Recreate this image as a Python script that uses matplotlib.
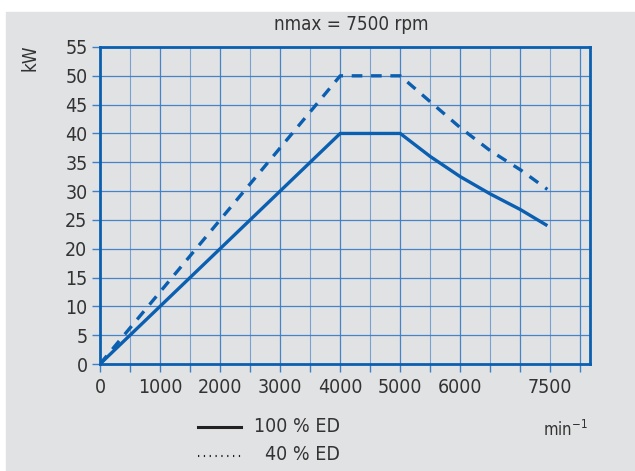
import matplotlib
matplotlib.use("Agg")
import matplotlib.pyplot as plt
from matplotlib.patches import Rectangle
from matplotlib.lines import Line2D
import numpy as np

plt.rcParams['font.family'] = ['Liberation Sans Narrow', 'DejaVu Sans']
plt.rcParams['font.stretch'] = 'condensed'
plt.rcParams['mathtext.default'] = 'regular'

# curves (rpm -> kW)
rpm = [0, 4000, 5000, 5500, 6000, 6500, 7000, 7450]
kw_100 = [0, 40, 40, 36, 32.5, 29.5, 26.8, 24]
kw_40 = [0, 50, 50, 45.5, 41, 37, 33.7, 30.3]

x_ticks = [0, 1000, 2000, 3000, 4000, 5000, 6000, 7500]
y_ticks = list(range(0, 60, 5))

blue = '#0a5fb0'
grid_blue = '#3f7fc4'
text_col = '#333333'
bg = '#e1e2e4'

fig = plt.figure(figsize=(6.35, 4.71), dpi=100)
fig.patches.append(Rectangle((6 / 635, 0), 1, (471 - 12) / 471,
                             transform=fig.transFigure, color=bg, zorder=-10))

ax = fig.add_axes([100 / 635, 1 - 364 / 471, 490 / 635, 317 / 471])
ax.set_facecolor(bg)
ax.set_xlim(0, 8160)
ax.set_ylim(0, 55)

# grid
for xv in np.arange(500, 8001, 500):
    ax.axvline(xv, color=grid_blue, lw=0.9 if xv % 1000 == 0 else 0.8,
               alpha=0.95 if xv % 1000 == 0 else 0.65, zorder=1)
for yv in y_ticks[1:]:
    ax.axhline(yv, color=grid_blue, lw=0.9, alpha=0.95, zorder=1)

ax.plot(rpm, kw_100, color=blue, lw=2.4, zorder=3, solid_capstyle='butt')
ax.plot(rpm, kw_40, color=blue, lw=2.4, zorder=3, dashes=(3.2, 2.6))

for s in ax.spines.values():
    s.set_color(blue)
    s.set_linewidth(2.0)

ax.set_xticks(np.arange(0, 8001, 500), minor=False)
ax.set_xticklabels([str(v) if v in x_ticks else '' for v in np.arange(0, 8001, 500)])
ax.set_yticks(y_ticks)
ax.tick_params(axis='both', colors=grid_blue, length=6, width=1.0,
               labelsize=14, labelcolor=text_col, pad=3)
ax.tick_params(axis='x', pad=4)

fig.text(351 / 635, 1 - 25 / 471, 'nmax = 7500 rpm', ha='center', va='center',
         fontsize=13.5, color=text_col)
fig.text(30 / 635, 1 - 58 / 471, 'kW', ha='center', va='center', rotation=90,
         fontsize=13.5, color=text_col)
fig.text(588 / 635, 1 - 430 / 471, 'min$^{-1}$', ha='right', va='center',
         fontsize=12, color=text_col)

fig.lines.append(Line2D([198 / 635, 241 / 635], [1 - 427 / 471] * 2,
                        transform=fig.transFigure, color='#222222', lw=2.2))
fig.lines.append(Line2D([198 / 635, 241 / 635], [1 - 456 / 471] * 2,
                        transform=fig.transFigure, color='#222222', lw=1.5,
                        dashes=(0.6, 2.2)))
fig.text(340 / 635, 1 - 427 / 471, '100 % ED', ha='right', va='center',
         fontsize=14, color=text_col)
fig.text(340 / 635, 1 - 455 / 471, '40 % ED', ha='right', va='center',
         fontsize=14, color=text_col)

fig.savefig('out.png', dpi=100, facecolor='white')
